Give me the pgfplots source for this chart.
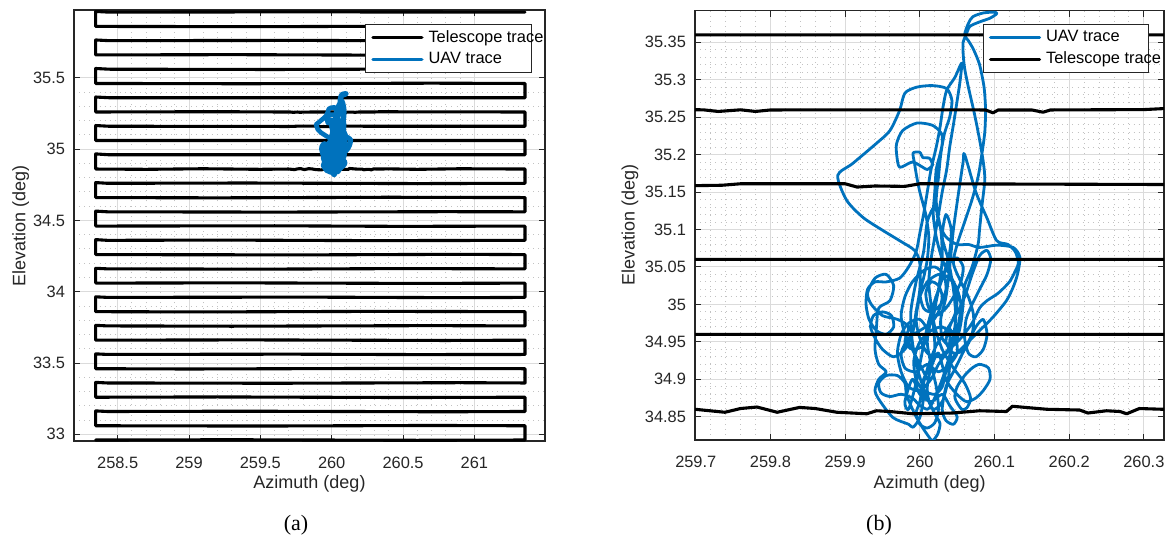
\documentclass[border=0pt]{standalone}
\usepackage{fontspec}
\setmainfont{Liberation Sans}
\newfontfamily\capfont{Liberation Serif}
\usepackage{pgfplots}
\pgfplotsset{compat=1.18}
\usepackage{pgfplotstable}
\definecolor{uav}{RGB}{0,114,189}
\definecolor{axgray}{RGB}{38,38,38}

\pgfplotstableread{
x y
260.010 34.900
260.000 34.920
259.990 34.940
259.980 34.960
259.975 34.985
259.980 35.010
259.990 35.030
260.005 35.045
260.020 35.050
260.032 35.040
260.035 35.020
260.028 35.000
260.015 34.990
260.005 34.995
260.000 35.015
260.005 35.035
260.010 35.060
260.012 35.090
260.008 35.120
260.000 35.150
259.995 35.175
259.993 35.188
259.991 35.202
260.000 35.203
260.004 35.196
260.013 35.195
260.017 35.186
260.010 35.180
260.004 35.183
259.990 35.190
259.973 35.183
259.969 35.200
259.969 35.215
259.977 35.232
259.996 35.242
260.017 35.239
260.029 35.228
260.030 35.215
260.027 35.200
260.022 35.180
260.020 35.150
260.018 35.120
260.022 35.090
260.030 35.060
260.040 35.040
260.050 35.020
260.055 35.000
260.052 34.975
260.045 34.950
260.038 34.925
260.030 34.900
260.022 34.880
260.015 34.865
260.010 34.860
260.000 34.865
259.990 34.875
259.975 34.880
259.960 34.877
259.948 34.882
259.945 34.895
259.955 34.905
259.970 34.905
259.980 34.895
259.982 34.880
259.988 34.865
259.995 34.850
260.004 34.835
260.013 34.822
260.017 34.818
260.024 34.827
260.027 34.841
260.020 34.854
260.012 34.872
260.010 34.890
260.015 34.915
260.025 34.935
260.035 34.900
260.045 34.885
260.055 34.875
260.063 34.870
260.075 34.875
260.085 34.885
260.094 34.900
260.092 34.915
260.080 34.920
260.070 34.915
260.060 34.905
260.050 34.890
260.047 34.875
260.056 34.860
260.063 34.862
260.068 34.875
260.060 34.895
260.045 34.915
260.030 34.940
260.020 34.970
260.015 35.000
260.012 35.030
260.015 35.060
260.020 35.090
260.025 35.120
260.030 35.150
260.036 35.180
260.040 35.210
260.045 35.240
260.050 35.272
260.054 35.299
260.056 35.322
260.047 35.303
260.036 35.286
260.031 35.263
260.027 35.236
260.022 35.210
260.015 35.180
260.010 35.150
260.005 35.120
260.000 35.095
259.995 35.070
259.985 35.050
259.973 35.035
259.955 35.030
259.940 35.030
259.930 35.020
259.928 35.000
259.932 34.980
259.942 34.965
259.955 34.960
259.965 34.970
259.962 34.985
259.950 34.990
259.938 34.985
259.934 34.970
259.940 34.955
259.950 34.940
259.965 34.930
259.980 34.940
259.990 34.960
259.995 34.990
260.000 35.020
260.000 35.055
259.993 35.072
259.973 35.085
259.950 35.099
259.924 35.116
259.902 35.139
259.890 35.172
259.910 35.188
259.942 35.215
259.960 35.232
259.973 35.259
259.980 35.282
259.996 35.290
260.017 35.292
260.036 35.288
260.043 35.272
260.040 35.250
260.033 35.228
260.028 35.200
260.025 35.170
260.022 35.140
260.025 35.110
260.035 35.090
260.050 35.080
260.065 35.080
260.080 35.076
260.103 35.079
260.125 35.076
260.134 35.063
260.131 35.041
260.125 35.023
260.116 35.005
260.098 34.983
260.080 34.965
260.060 34.945
260.045 34.930
260.035 34.910
260.030 34.890
260.020 34.880
260.005 34.885
259.995 34.900
259.992 34.925
260.000 34.950
260.015 34.965
260.030 34.970
260.040 34.960
260.038 34.940
260.025 34.930
260.010 34.935
260.000 34.955
259.995 34.980
260.000 35.010
260.010 35.030
260.025 35.040
260.040 35.035
260.050 35.015
260.048 34.990
260.040 34.970
260.035 34.950
260.045 34.935
260.060 34.940
260.070 34.960
260.072 34.985
260.065 35.010
260.055 35.030
260.045 35.055
260.050 35.080
260.060 35.110
260.070 35.140
260.078 35.170
260.083 35.200
260.087 35.230
260.088 35.260
260.086 35.290
260.080 35.320
260.072 35.340
260.065 35.352
260.060 35.360
260.065 35.375
260.071 35.384
260.085 35.389
260.100 35.390
260.103 35.388
260.094 35.382
260.080 35.377
260.067 35.371
260.062 35.360
260.058 35.350
260.058 35.335
260.060 35.315
260.065 35.290
260.073 35.255
260.080 35.220
260.085 35.190
260.087 35.166
260.083 35.130
260.080 35.100
260.078 35.080
260.070 35.050
260.060 35.025
260.058 35.000
260.055 34.975
260.050 34.955
260.040 34.945
260.030 34.955
260.028 34.980
260.035 35.010
260.040 35.050
260.045 35.100
260.052 35.150
260.058 35.190
260.060 35.200
260.075 35.150
260.090 35.115
260.103 35.085
260.118 35.080
260.128 35.070
260.132 35.055
260.128 35.045
260.120 35.030
260.105 35.015
260.090 35.005
260.080 34.995
260.070 34.975
260.055 34.955
260.040 34.940
260.025 34.920
260.015 34.900
260.000 34.885
259.985 34.890
259.975 34.910
259.970 34.935
259.975 34.960
259.985 34.975
260.000 34.980
260.010 34.965
260.005 34.945
259.990 34.940
259.980 34.950
259.985 34.970
259.970 34.980
259.950 34.985
259.935 35.000
259.930 35.015
259.940 35.035
259.955 35.040
259.965 35.025
259.960 35.005
259.945 34.995
259.942 34.970
259.940 34.940
259.945 34.920
259.955 34.910
259.945 34.900
259.940 34.885
259.946 34.872
259.964 34.849
259.985 34.840
259.991 34.836
260.000 34.849
260.005 34.875
260.005 34.900
260.010 34.910
260.020 34.940
260.018 34.980
260.025 35.020
260.030 35.060
260.028 35.100
260.020 35.130
260.010 35.110
260.005 35.070
259.995 35.030
259.988 34.990
259.990 34.950
259.998 34.910
260.008 34.880
260.018 34.860
260.030 34.870
260.038 34.900
260.042 34.940
260.048 34.980
260.045 35.020
260.038 35.060
260.030 35.090
260.035 35.120
260.042 35.100
260.040 35.070
260.032 35.040
260.020 35.005
260.010 34.970
260.002 34.930
259.995 34.895
259.985 34.860
259.980 34.870
259.990 34.900
260.000 34.880
260.015 34.870
260.030 34.880
260.040 34.865
260.050 34.850
260.045 34.840
260.035 34.845
260.030 34.860
260.035 34.890
260.045 34.910
260.055 34.930
260.065 34.950
260.075 34.970
260.085 34.980
260.090 34.960
260.085 34.940
260.075 34.930
260.065 34.935
260.060 34.955
260.062 34.980
260.070 35.000
260.080 35.020
260.090 35.040
260.095 35.060
260.090 35.072
260.080 35.065
260.070 35.040
260.060 35.010
260.048 34.985
260.035 34.965
260.022 34.945
260.012 34.920
260.005 34.895
260.000 34.870
259.995 34.855
260.000 34.840
260.010 34.835
260.020 34.842
260.025 34.860
260.022 34.890
260.015 34.920
260.010 34.950
260.015 34.980
260.022 35.010
260.030 35.035
260.040 35.055
260.050 35.062
260.058 35.050
260.055 35.030
260.045 35.010
260.035 34.995
260.022 34.985
260.012 34.995
260.008 35.015
260.015 35.030
260.025 35.025
260.030 35.010
260.025 34.990
260.015 34.975
260.000 34.965
259.985 34.955
259.975 34.935
259.980 34.915
259.995 34.910
260.010 34.920
260.025 34.910
260.040 34.920
260.050 34.935
260.048 34.955
260.038 34.970
}\uavdata

\pgfplotstableread{
x y
258.346 32.960
259.300 32.962
260.600 32.958
261.355 32.960
261.355 33.060
260.700 33.062
259.500 33.058
258.346 33.060
258.346 33.164
258.430 33.160
259.400 33.162
260.800 33.158
261.355 33.160
261.355 33.260
260.500 33.258
259.200 33.262
258.346 33.260
258.346 33.364
258.430 33.360
259.600 33.358
260.900 33.362
261.355 33.360
261.355 33.460
260.400 33.462
259.000 33.458
258.346 33.460
258.346 33.564
258.430 33.560
259.700 33.562
260.600 33.559
261.355 33.560
261.355 33.660
260.800 33.658
259.400 33.662
258.346 33.660
258.346 33.764
258.430 33.760
259.300 33.758
260.700 33.762
261.355 33.760
261.355 33.860
260.300 33.862
259.100 33.858
258.346 33.860
258.346 33.964
258.430 33.960
259.800 33.962
260.900 33.958
261.355 33.960
261.355 34.060
260.600 34.058
259.300 34.062
258.346 34.060
258.346 34.164
258.430 34.160
259.500 34.158
260.500 34.162
261.355 34.160
261.355 34.260
260.900 34.262
259.800 34.258
258.346 34.260
258.346 34.365
258.430 34.360
259.200 34.362
260.300 34.358
261.355 34.360
261.355 34.460
260.500 34.458
259.600 34.462
258.346 34.460
258.346 34.565
258.430 34.560
259.600 34.558
260.800 34.561
261.355 34.560
261.355 34.660
260.400 34.662
259.200 34.658
258.346 34.660
258.346 34.765
258.430 34.760
259.400 34.762
260.600 34.758
261.355 34.760
261.355 34.860
260.900 34.862
260.600 34.858
260.400 34.861
260.325 34.860
260.294 34.861
260.277 34.854
260.268 34.857
260.250 34.858
260.225 34.855
260.214 34.859
260.170 34.860
260.124 34.864
260.116 34.857
260.080 34.858
260.044 34.855
259.991 34.854
259.960 34.857
259.942 34.858
259.929 34.854
259.889 34.856
259.860 34.861
259.839 34.8625
259.809 34.856
259.782 34.863
259.760 34.861
259.739 34.856
259.699 34.860
259.500 34.858
259.100 34.862
258.700 34.858
258.346 34.860
258.346 34.966
258.440 34.960
261.355 34.960
261.355 35.060
258.346 35.060
258.346 35.165
258.440 35.160
259.300 35.159
259.700 35.1585
259.735 35.159
259.760 35.161
259.900 35.161
259.916 35.1566
259.940 35.158
259.980 35.1575
260.000 35.161
260.330 35.160
261.355 35.160
261.355 35.260
260.330 35.2615
260.300 35.260
260.175 35.2595
260.165 35.2565
260.150 35.2595
260.105 35.2595
260.098 35.2557
260.088 35.2595
259.990 35.2597
259.800 35.2595
259.780 35.2575
259.760 35.2597
259.730 35.2575
259.710 35.2597
259.200 35.262
258.346 35.260
258.346 35.365
258.440 35.360
261.355 35.3595
261.355 35.460
260.700 35.462
259.400 35.458
258.346 35.460
258.346 35.565
258.440 35.560
259.600 35.558
260.800 35.562
261.355 35.560
261.355 35.660
260.500 35.658
259.300 35.662
258.346 35.660
258.346 35.765
258.440 35.760
259.800 35.762
260.700 35.758
261.355 35.760
261.355 35.860
260.600 35.862
259.500 35.858
258.346 35.860
258.346 35.965
258.440 35.960
259.700 35.962
261.355 35.960
}\teldata

\pgfplotsset{
  mystyle/.style={
    scale only axis,
    axis line style={axgray, line width=0.6pt},
    every tick/.style={axgray, line width=0.5pt},
    major tick length=3pt,
    minor tick length=0pt,
    tick align=inside,
    tick pos=both,
    grid=both,
    major grid style={black!14, line width=0.5pt, solid},
    minor grid style={black!24, line width=0.45pt, dash pattern=on 0.45pt off 2.1pt},
    minor tick num=4,
    ticklabel style={font=\fontsize{8.2}{9.5}\selectfont, text=axgray},
    xticklabel style={yshift=-4.3pt},
    yticklabel style={xshift=-1pt},
    label style={font=\fontsize{9}{10.5}\selectfont, text=axgray},
    /pgf/number format/assume math mode=true,
    /pgf/number format/fixed,
    /pgf/number format/precision=2,
    scaled ticks=false,
    legend cell align=left,
    legend style={draw=axgray, line width=0.5pt, fill=white,
      inner xsep=2.85pt, inner ysep=1.8pt, row sep=1.8pt, column sep=2.5pt,
      font=\fontsize{8.2}{9.5}\selectfont, anchor=north east,
      nodes={inner xsep=0pt, inner ysep=1pt}},
    legend image code/.code={\draw[##1, line width=1.6pt] (0pt,0pt) -- (24.5pt,0pt);},
    xlabel={Azimuth (deg)},
    ylabel={Elevation (deg)},
  },
  tel/.style={black, line width=1.55pt, line join=round, line cap=round},
  uavs/.style={uav, line width=1.4pt, line join=round, line cap=round},
}

\begin{document}
\begin{tikzpicture}
\useasboundingbox (0,0) rectangle (585.5pt,-271.5pt);
\begin{axis}[mystyle,
  at={(37pt,-5pt)}, anchor=north west,
  width=235.5pt, height=215.5pt,
  xmin=258.194, xmax=261.495, ymin=32.953, ymax=35.975,
  xtick={258.5,259,259.5,260,260.5,261},
  ytick={33,33.5,34,34.5,35,35.5},
  xlabel style={at={(axis description cs:0.5,-0.0998)}, anchor=center},
  ylabel style={at={(axis description cs:-0.113,0.5)}, anchor=center},
  legend style={at={(0.9718,0.9675)}},
]
\addplot[tel] table {\teldata};
\addlegendentry{\makebox[48.5pt][l]{Telescope trace}}
\addplot[uavs, line width=2.3pt] table {\uavdata};
\addlegendentry{\makebox[48.5pt][l]{UAV trace}}
\end{axis}
\begin{axis}[mystyle,
  at={(347.5pt,-5.35pt)}, anchor=north west,
  width=234.5pt, height=214.65pt,
  xmin=259.699, xmax=260.327, ymin=34.819, ymax=35.392,
  xtick={259.7,259.8,259.9,260,260.1,260.2,260.3},
  ytick={34.85,34.9,34.95,35,35.05,35.1,35.15,35.2,35.25,35.3,35.35},
  xlabel style={at={(axis description cs:0.5,-0.1025)}, anchor=center},
  ylabel style={at={(axis description cs:-0.1386,0.5)}, anchor=center},
  legend style={at={(0.9687,0.969)}},
]
\addplot[uavs, smooth, tension=0.45] table {\uavdata};
\addlegendentry{\makebox[48.5pt][l]{UAV trace}}
\addplot[tel] table {\teldata};
\addlegendentry{\makebox[48.5pt][l]{Telescope trace}}
\end{axis}
\node[font=\capfont\fontsize{11}{13}\selectfont] at (148pt,-262.5pt) {(a)};
\node[font=\capfont\fontsize{11}{13}\selectfont] at (439.5pt,-262.5pt) {(b)};
\end{tikzpicture}
\end{document}
